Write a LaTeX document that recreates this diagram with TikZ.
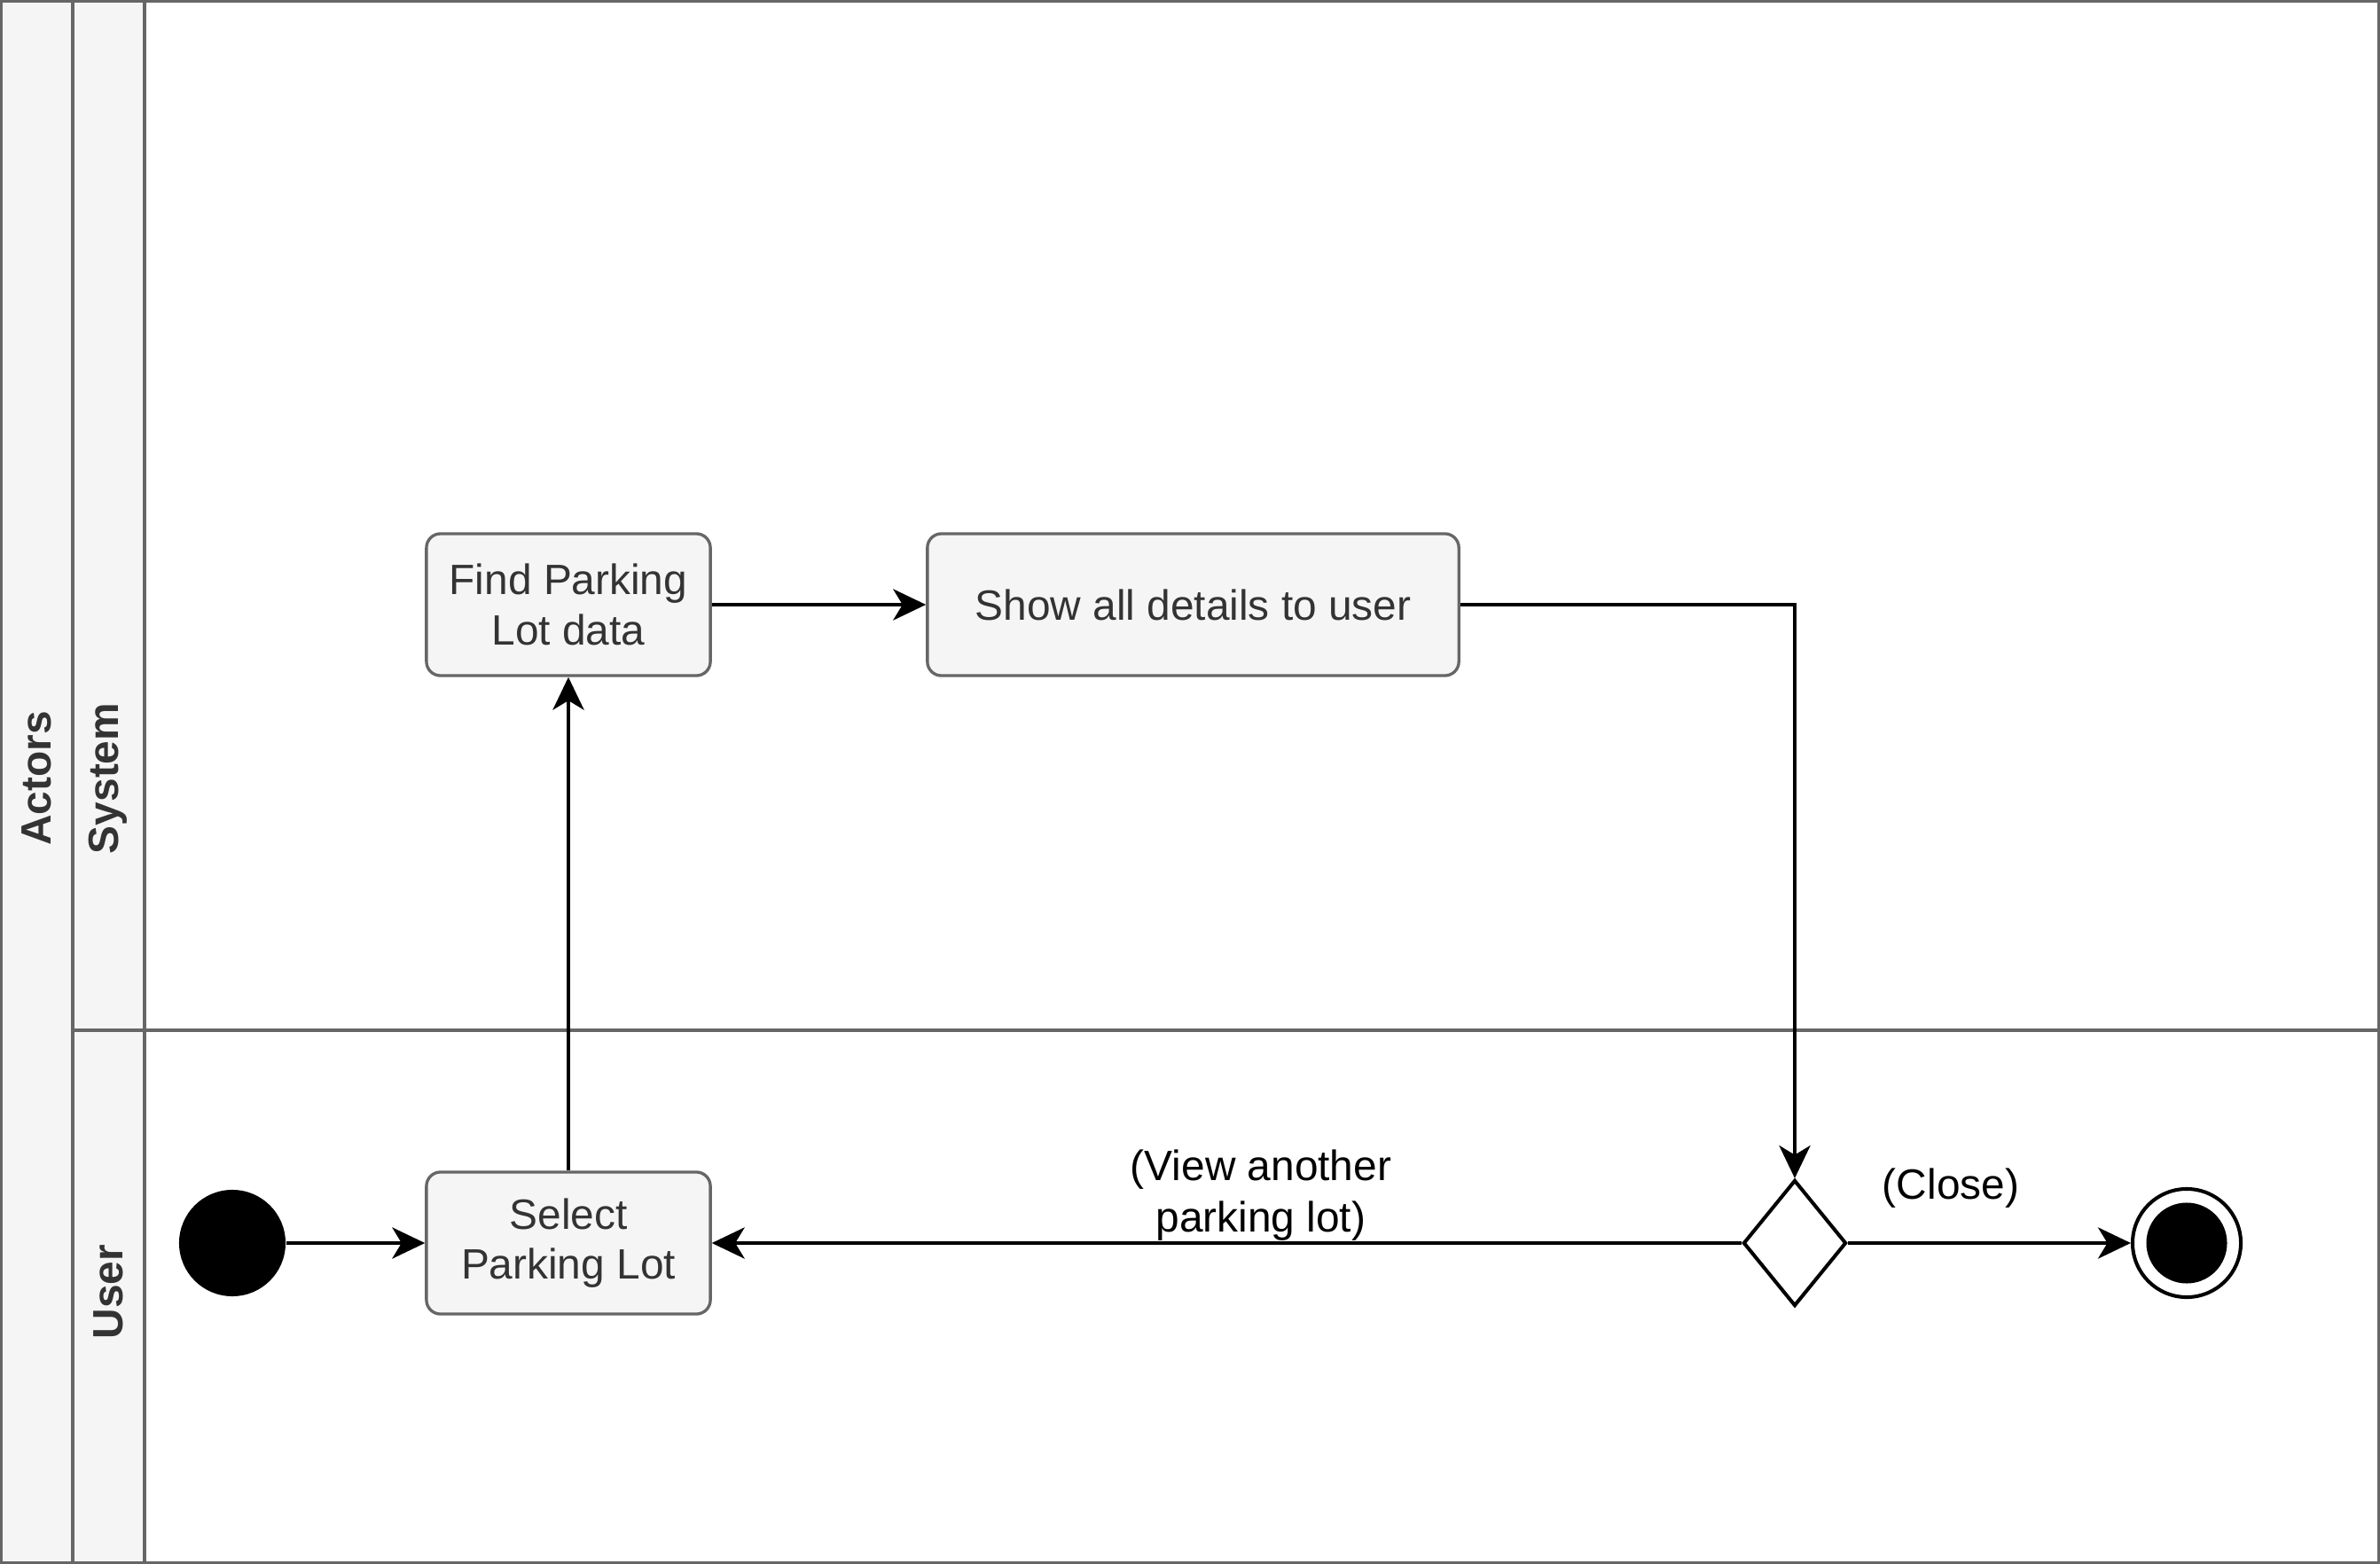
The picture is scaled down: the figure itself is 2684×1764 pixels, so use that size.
\documentclass[tikz,border=0pt]{standalone}
\usepackage{fontspec}
\setmainfont{Liberation Sans}
\usetikzlibrary{arrows.meta,shapes.geometric}
\definecolor{lanefill}{HTML}{F5F5F5}
\definecolor{lanestroke}{HTML}{666666}
\definecolor{txt}{HTML}{333333}
\tikzset{
  lanebox/.style={draw=lanestroke, fill=lanefill, line width=0.95pt},
  laneline/.style={draw=lanestroke, line width=0.95pt},
  lanelabel/.style={font=\fontsize{13.6}{16}\selectfont\bfseries, text=txt, rotate=90, inner sep=0pt},
  action/.style={draw=lanestroke, fill=lanefill, line width=0.95pt, rounded corners=4.5pt,
    text=txt, font=\fontsize{13.6}{16}\selectfont, align=center, inner sep=0pt},
  flow/.style={draw=black, line width=1.15pt, -{Stealth[length=10.5pt,width=10pt,inset=3pt]}},
  elabel/.style={font=\fontsize{13.6}{16.3}\selectfont, text=black, align=center, inner sep=0pt},
  startnode/.style={circle, fill=black, minimum size=1.2cm, inner sep=0pt},
  decision/.style={diamond, draw=black, fill=white, line width=1.15pt, minimum width=1.16cm, minimum height=1.42cm, inner sep=0pt},
  finalouter/.style={circle, draw=black, fill=white, line width=1.15pt, minimum size=1.22cm, inner sep=0pt},
  finalinner/.style={circle, fill=black, minimum size=0.91cm, inner sep=0pt}
}
\begin{document}
\begin{tikzpicture}[x=0.01cm,y=-0.01cm]
\useasboundingbox (0,0) rectangle (2684,1764);
% swimlanes
\fill[white] (0,0) rectangle (2684,1764);
\path[lanebox] (1.7,1.7) rectangle (82,1762.3);
\path[lanebox] (82,1.7) rectangle (163,1762.3);
\path[laneline] (1.7,1.7) rectangle (2682.3,1762.3);
\path[laneline] (82,1162) -- (2682.3,1162);
\node[lanelabel] (actors) at (41,878) {Actors};
\node[lanelabel] (system) at (122,878) {System};
\node[lanelabel] (user) at (122,1457) {User};
% nodes
\node[action, minimum width=3.2cm, minimum height=1.6cm] (find) at (641,682) {Find Parking\\Lot data};
\node[action, minimum width=5.99cm, minimum height=1.6cm] (show) at (1345.5,682) {Show all details to user};
\node[action, minimum width=3.2cm, minimum height=1.6cm] (sel) at (641,1402) {Select\\Parking Lot};
\node[startnode] (init) at (262,1402) {};
\node[decision] (dia) at (2024,1402) {};
\node[finalouter] (fin) at (2466,1402) {};
\node[finalinner] (fininner) at (fin) {};
% connectors
\draw[flow] (init) -- (sel);
\draw[flow] (sel) -- (find);
\draw[flow] (find) -- (show);
\draw[flow] (show.east) -| (dia.north);
\draw[flow] (dia.west) -- (sel.east);
\draw[flow] (dia.east) -- (fin.west);
% labels
\node[elabel] (lview) at (1422,1348) {(View another\\parking lot)};
\node[elabel] (lclose) at (2200,1340) {(Close)};
\end{tikzpicture}
\end{document}
